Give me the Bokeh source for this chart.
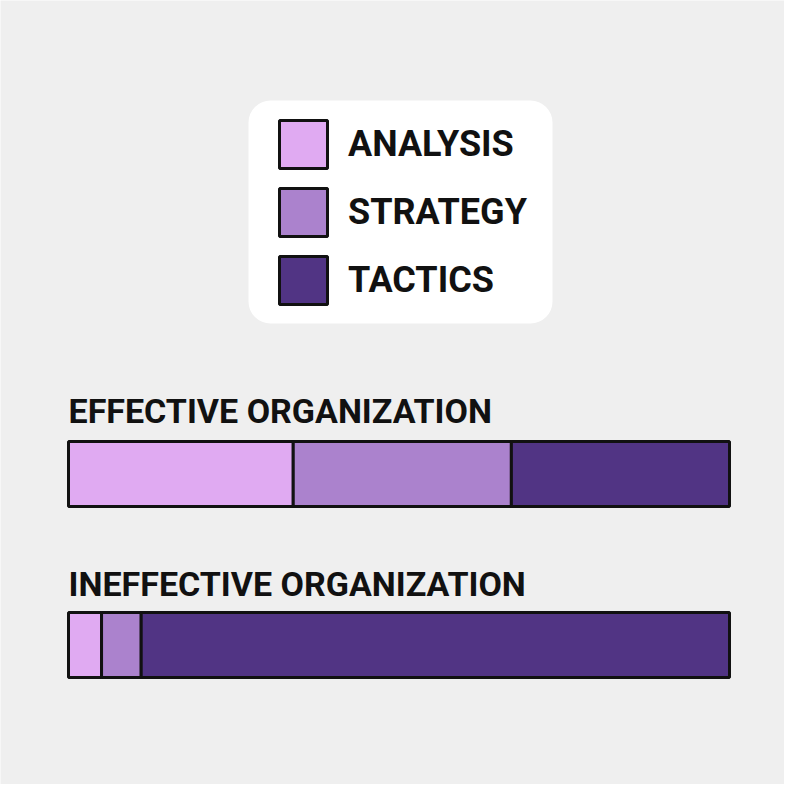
from bokeh.plotting import figure
from bokeh.models import ColumnDataSource, Range1d, Legend, LegendItem, BoxAnnotation
from bokeh.core.properties import value
from bokeh.embed import file_html
from bokeh.resources import INLINE

# ---- data ----
categories = ["EFFECTIVE ORGANIZATION", "INEFFECTIVE ORGANIZATION"]
segments = ["ANALYSIS", "STRATEGY", "TACTICS"]
analysis = [34, 5]
strategy = [33, 6]
tactics = [33, 89]

# ---- layout / style ----
colors = ["#e0aaf2", "#ab82cd", "#513484"]
bg = "#efefef"
font_name = "Roboto"
W = H = 784
bar_y = [473.5, 644.5]       # bar centres (px from top)
label_y = [410, 583]         # label anchor (px from top)
px_per_unit = 6.61
x0_px = 68

source = ColumnDataSource(dict(
    cat=categories, y=bar_y, ly=label_y, lx=[0, 0],
    ANALYSIS=analysis, STRATEGY=strategy, TACTICS=tactics,
))

p = figure(width=W, height=H, output_backend="svg", toolbar_location=None,
           x_axis_location=None, y_axis_location=None, min_border=0,
           x_range=Range1d(-x0_px / px_per_unit, (W - x0_px) / px_per_unit),
           y_range=Range1d(H, 0))
p.grid.visible = False
p.outline_line_color = None
p.background_fill_color = bg
p.border_fill_color = bg

# legend background card
card = BoxAnnotation(left=(248 - x0_px) / px_per_unit, right=(552 - x0_px) / px_per_unit,
                     top=100, bottom=323, fill_color="white", fill_alpha=1,
                     line_alpha=0, border_radius=22, level="underlay")
p.add_layout(card)

renderers = p.hbar_stack(segments, y="y", height=65, color=colors, source=source,
                         line_color="#111111", line_width=3)

p.text(x="lx", y="ly", text="cat", source=source, text_font=value(font_name),
       text_font_size="34px", text_font_style="bold", text_color="#111111",
       text_baseline="alphabetic", text_align="left")

legend = Legend(items=[LegendItem(label=s, renderers=[r]) for s, r in zip(segments, renderers)],
                location=(273, 474), padding=0, margin=0, spacing=8,
                glyph_width=60, glyph_height=60, label_height=60,
                label_standoff=15, label_text_font=font_name, label_text_font_size="36px",
                label_text_font_style="bold", label_text_color="#111111",
                background_fill_alpha=0, border_line_alpha=0)
p.add_layout(legend)

open("out.html", "w").write(file_html(p, INLINE))
